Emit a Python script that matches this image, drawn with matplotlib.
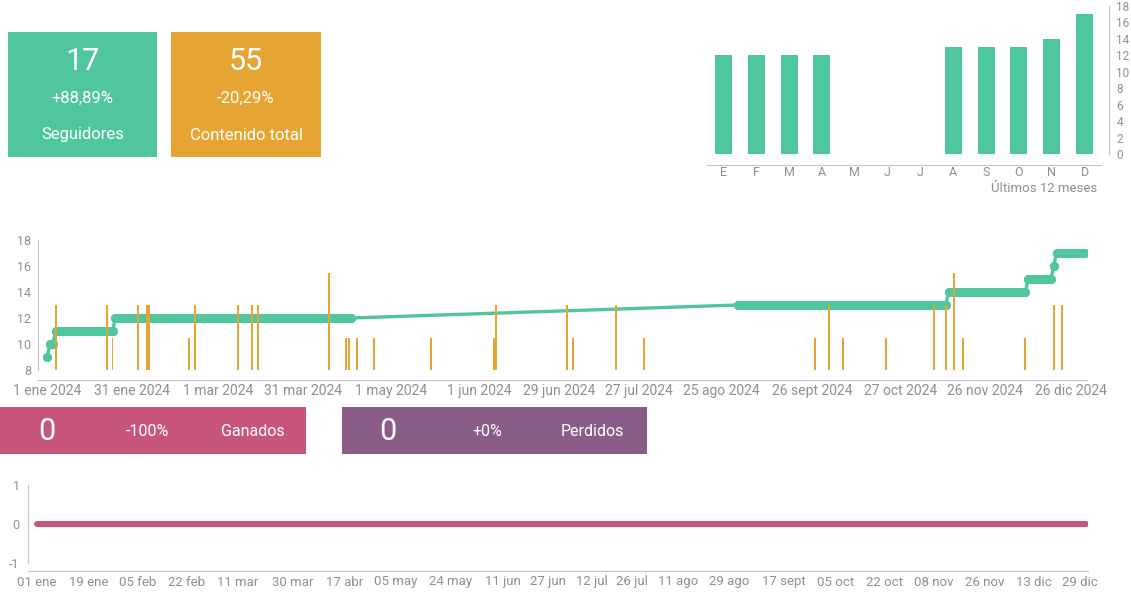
import pandas as pd
import matplotlib
matplotlib.use("Agg")
import matplotlib.pyplot as plt
from matplotlib.patches import Rectangle

plt.rcParams['font.family'] = ['Roboto', 'DejaVu Sans']
plt.rcParams['axes.unicode_minus'] = False

# monthly followers (last 12 months)
month_labels = ['E', 'F', 'M', 'A', 'M', 'J', 'J', 'A', 'S', 'O', 'N', 'D']
month_followers = [12, 12, 12, 12, 0, 0, 0, 13, 13, 13, 14, 17]

# follower history: runs of days with the same count
seg_start = ['2024-01-01', '2024-01-02', '2024-01-04', '2024-01-25', '2024-08-31',
             '2024-11-13', '2024-12-11', '2024-12-20', '2024-12-21']
seg_end = ['2024-01-01', '2024-01-03', '2024-01-24', '2024-04-17', '2024-11-12',
           '2024-12-10', '2024-12-19', '2024-12-20', '2024-12-31']
seg_value = [9, 10, 11, 12, 13, 14, 15, 16, 17]

# posts published per day
post_dates = ['2024-01-04', '2024-01-22', '2024-01-24', '2024-02-02', '2024-02-05',
              '2024-02-06', '2024-02-20', '2024-02-22', '2024-03-08', '2024-03-13',
              '2024-03-15', '2024-04-09', '2024-04-15', '2024-04-16', '2024-04-19',
              '2024-04-25', '2024-05-15', '2024-06-06', '2024-06-07', '2024-07-02',
              '2024-07-04', '2024-07-19', '2024-07-29', '2024-09-27', '2024-10-02',
              '2024-10-07', '2024-10-22', '2024-11-08', '2024-11-12', '2024-11-15',
              '2024-11-18', '2024-12-10', '2024-12-20', '2024-12-23']
post_counts = [2, 2, 1, 2, 2, 2, 1, 2, 2, 2, 2, 3, 1, 1, 1, 1, 1, 1, 2, 2,
               1, 2, 1, 1, 2, 1, 1, 2, 2, 3, 1, 1, 2, 2]

mid_tick_dates = ['2024-01-01', '2024-01-31', '2024-03-01', '2024-03-31', '2024-05-01',
                  '2024-06-01', '2024-06-29', '2024-07-27', '2024-08-25', '2024-09-26',
                  '2024-10-27', '2024-11-26', '2024-12-26']
mid_tick_labels = ['1 ene 2024', '31 ene 2024', '1 mar 2024', '31 mar 2024', '1 may 2024',
                   '1 jun 2024', '29 jun 2024', '27 jul 2024', '25 ago 2024', '26 sept 2024',
                   '27 oct 2024', '26 nov 2024', '26 dic 2024']

# gained followers per day
gained_dates = ['2024-01-01', '2024-12-31']
gained_values = [0, 0]

low_tick_dates = ['2024-01-01', '2024-01-19', '2024-02-05', '2024-02-22', '2024-03-11',
                  '2024-03-30', '2024-04-17', '2024-05-05', '2024-05-24', '2024-06-11',
                  '2024-06-27', '2024-07-12', '2024-07-26', '2024-08-11', '2024-08-29',
                  '2024-09-17', '2024-10-05', '2024-10-22', '2024-11-08', '2024-11-26',
                  '2024-12-13', '2024-12-29']
low_tick_labels = ['01 ene', '19 ene', '05 feb', '22 feb', '11 mar', '30 mar', '17 abr',
                   '05 may', '24 may', '11 jun', '27 jun', '12 jul', '26 jul', '11 ago',
                   '29 ago', '17 sept', '05 oct', '22 oct', '08 nov', '26 nov', '13 dic',
                   '29 dic']

GREEN = '#50C69C'
ORANGE = '#E6A433'
PINK = '#C8567C'
PURPLE = '#8A5D89'
GREY = '#8f8f8f'
AXIS = '#c4c4c4'

W, H = 1131, 592
fig = plt.figure(figsize=(W / 100, H / 100), dpi=100)


def rect(l, t, r, b):
    return [l / W, 1 - b / H, (r - l) / W, (b - t) / H]


def card(l, t, r, b, color):
    fig.add_artist(Rectangle((l / W, 1 - b / H), (r - l) / W, (b - t) / H,
                             transform=fig.transFigure, color=color, lw=0))


def ftext(x, y, s, size, ha='center', color='white'):
    fig.text(x / W, 1 - y / H, s, ha=ha, va='center', fontsize=size, color=color)


# KPI cards
card(8, 32, 157, 157, GREEN)
ftext(82.5, 62, '17', 22)
ftext(82.5, 98, '+88,89%', 12)
ftext(82.5, 135, 'Seguidores', 12)
card(171, 32, 321, 157, ORANGE)
ftext(246, 62, '55', 22)
ftext(246, 98, '-20,29%', 12)
ftext(246, 135, 'Contenido total', 12)

card(0, 407, 306, 454, PINK)
ftext(47, 432, '0', 22)
ftext(147, 432, '-100%', 11.5)
ftext(253, 432, 'Ganados', 11.5)
card(342, 407, 647, 454, PURPLE)
ftext(388, 432, '0', 22)
ftext(487, 432, '+0%', 11.5)
ftext(592, 432, 'Perdidos', 11.5)

# monthly bars
axm = fig.add_axes(rect(707, 6, 1101, 154))
axm.bar(range(12), month_followers, width=0.52, color=GREEN)
axm.set_xlim(-0.5, 11.5)
axm.set_ylim(0, 18)
axm.set_yticks(range(0, 19, 2))
axm.set_xticks(range(12))
axm.set_xticklabels(month_labels)
axm.yaxis.tick_right()
for s in ['left', 'top']:
    axm.spines[s].set_visible(False)
axm.spines['right'].set_position(('outward', 6))
axm.spines['bottom'].set_position(('outward', 8))
for s in ['right', 'bottom']:
    axm.spines[s].set_color(AXIS)
axm.tick_params(axis='y', length=0, pad=5, labelsize=8.5, labelcolor=GREY)
axm.tick_params(axis='x', length=0, pad=1, labelsize=9, labelcolor=GREY)
axm.patch.set_alpha(0)
ftext(1097, 188, 'Últimos 12 meses', 9.5, ha='right', color=GREY)

# follower history + posts
x0 = pd.Timestamp('2024-01-01')
starts = pd.to_datetime(seg_start)
ends = pd.to_datetime(seg_end)

ax = fig.add_axes(rect(38, 240, 1087, 370))
line_x, line_y = [], []
for s, e, v in zip(starts, ends, seg_value):
    line_x += [s, e]
    line_y += [v, v]
ax.plot(line_x, line_y, color=GREEN, lw=2.4, solid_capstyle='round', zorder=2)
for s, e, v in zip(starts, ends, seg_value):
    ax.plot([s, e], [v, v], color=GREEN, lw=6.5, solid_capstyle='round', zorder=3)
ax.plot(starts, seg_value, 'o', color=GREEN, ms=6.5, mew=0, zorder=3)
ax.plot(ends, seg_value, 'o', color=GREEN, ms=6.5, mew=0, zorder=3)
ax.set_xlim(x0 - pd.Timedelta(days=3.2), x0 + pd.Timedelta(days=365.7))
ax.set_ylim(8, 18)
ax.set_yticks(range(8, 19, 2))
ax.set_xticks(pd.to_datetime(mid_tick_dates))
ax.set_xticklabels(mid_tick_labels)
for s in ['right', 'top']:
    ax.spines[s].set_visible(False)
ax.spines['bottom'].set_position(('outward', 7))
for s in ['left', 'bottom']:
    ax.spines[s].set_color(AXIS)
ax.tick_params(axis='y', length=0, pad=5, labelsize=9, labelcolor=GREY)
ax.tick_params(axis='x', length=0, pad=3, labelsize=10, labelcolor=GREY)

ax2 = ax.twinx()
ax2.bar(pd.to_datetime(post_dates), post_counts, width=0.7, color=ORANGE, zorder=4)
ax2.set_ylim(0, 4)
ax2.axis('off')

# gained followers
axg = fig.add_axes(rect(28, 485, 1088, 563))
axg.plot(pd.to_datetime(gained_dates), gained_values, color=PINK, lw=4.3,
         solid_capstyle='round')
axg.set_xlim(x0 - pd.Timedelta(days=3.1), x0 + pd.Timedelta(days=365.8))
axg.set_ylim(-1, 1)
axg.set_yticks([-1, 0, 1])
axg.set_xticks(pd.to_datetime(low_tick_dates))
axg.set_xticklabels(low_tick_labels)
for s in ['right', 'top']:
    axg.spines[s].set_visible(False)
axg.spines['bottom'].set_position(('outward', 6))
for s in ['left', 'bottom']:
    axg.spines[s].set_color(AXIS)
axg.tick_params(axis='y', length=0, pad=6, labelsize=9, labelcolor=GREY)
axg.tick_params(axis='x', length=0, pad=3, labelsize=9.5, labelcolor=GREY)

fig.savefig('out.png', dpi=100)
